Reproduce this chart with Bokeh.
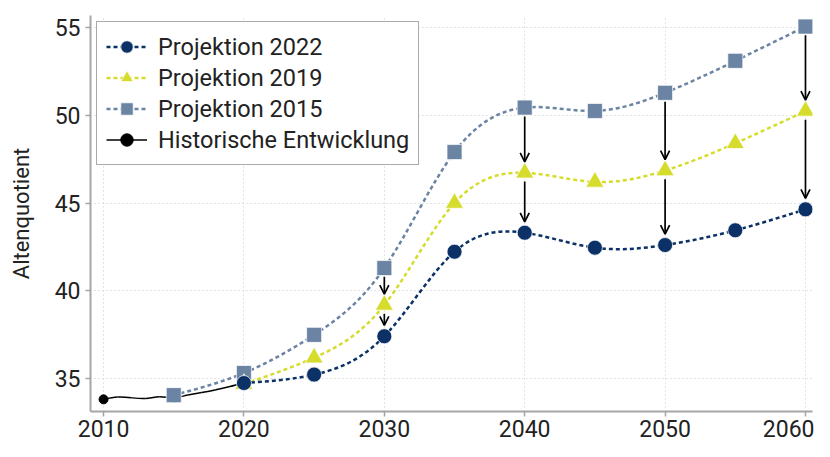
import numpy as np
from bokeh.plotting import figure
from bokeh.models import (ColumnDataSource, Range1d, FixedTicker, Legend, LegendItem,
                          Arrow, OpenHead)
from bokeh.embed import file_html
from bokeh.resources import INLINE

# ---------------- data ----------------
years_proj = [2020, 2025, 2030, 2035, 2040, 2045, 2050, 2055, 2060]
proj_2022 = [34.76, 35.24, 37.42, 42.23, 43.31, 42.46, 42.61, 43.45, 44.64]
proj_2019 = [34.7, 36.2, 39.2, 45.0, 46.72, 46.2, 46.85, 48.4, 50.24]
years_2015 = [2015, 2020, 2025, 2030, 2035, 2040, 2045, 2050, 2055, 2060]
proj_2015 = [34.07, 35.33, 37.5, 41.3, 47.9, 50.43, 50.24, 51.27, 53.09, 55.04]
years_hist = [2010, 2011, 2012, 2013, 2014, 2015, 2016, 2017, 2018, 2019, 2020]
hist = [33.83, 33.96, 33.92, 33.88, 33.98, 33.92, 34.08, 34.22, 34.38, 34.56, 34.76]
hist_marker_years = [2010, 2015, 2020]
arrow_years = [2030, 2040, 2050, 2060]

x_ticks = [2010, 2020, 2030, 2040, 2050, 2060]
y_ticks = [35, 40, 45, 50, 55]

C2022 = "#0b3166"
C2019 = "#d5dc2b"
C2015 = "#6b84a3"
FONT = "Roboto"


def spline_segments(xs, ys):
    """Natural cubic spline through the points, as cubic Bezier segments."""
    x = np.asarray(xs, float)
    y = np.asarray(ys, float)
    n = len(x)
    h = np.diff(x)
    A = np.zeros((n, n))
    b = np.zeros(n)
    A[0, 0] = 1
    A[-1, -1] = 1
    for i in range(1, n - 1):
        A[i, i - 1] = h[i - 1]
        A[i, i] = 2 * (h[i - 1] + h[i])
        A[i, i + 1] = h[i]
        b[i] = 6 * ((y[i + 1] - y[i]) / h[i] - (y[i] - y[i - 1]) / h[i - 1])
    M = np.linalg.solve(A, b)
    s = (y[1:] - y[:-1]) / h
    d0 = s - h * (2 * M[:-1] + M[1:]) / 6
    d1 = s + h * (M[:-1] + 2 * M[1:]) / 6
    return dict(x0=x[:-1], y0=y[:-1], x1=x[1:], y1=y[1:],
                cx0=x[:-1] + h / 3, cy0=y[:-1] + d0 * h / 3,
                cx1=x[1:] - h / 3, cy1=y[1:] - d1 * h / 3)


p = figure(width=814, height=441, output_backend="svg", toolbar_location=None,
           x_range=Range1d(2009.07, 2060.5), y_range=Range1d(33.14, 55.67),
           min_border_left=90, min_border_right=2, min_border_top=15, min_border_bottom=30)
p.outline_line_color = None
p.background_fill_color = "white"

# axes
for ax in (p.xaxis[0], p.yaxis[0]):
    ax.axis_line_color = "#a6a6a6"
    ax.axis_line_width = 2
    ax.major_tick_line_color = "#a6a6a6"
    ax.major_tick_line_width = 1.5
    ax.major_tick_out = 5
    ax.major_tick_in = 0
    ax.minor_tick_line_color = None
    ax.major_label_text_font = FONT
    ax.major_label_text_font_size = "23px"
    ax.major_label_text_color = "#222222"
p.xaxis.ticker = FixedTicker(ticks=x_ticks)
p.yaxis.ticker = FixedTicker(ticks=y_ticks)
p.xaxis.major_label_standoff = 3
p.yaxis.major_label_standoff = 5
p.yaxis.axis_label = "Altenquotient"
p.yaxis.axis_label_text_font = FONT
p.yaxis.axis_label_text_font_size = "22px"
p.yaxis.axis_label_text_font_style = "normal"
p.yaxis.axis_label_text_color = "#222222"
p.yaxis.axis_label_standoff = 18

p.xgrid.ticker = FixedTicker(ticks=x_ticks)
p.ygrid.ticker = FixedTicker(ticks=y_ticks)
for g in (p.xgrid[0], p.ygrid[0]):
    g.grid_line_color = "#c8c8c8"
    g.grid_line_dash = "1 3"
    g.grid_line_width = 1

# smooth dashed projection curves
curves = {}
for key, xs, ys, col in (("2015", years_2015, proj_2015, C2015),
                         ("2019", years_proj, proj_2019, C2019),
                         ("2022", years_proj, proj_2022, C2022)):
    curves[key] = p.bezier(source=ColumnDataSource(spline_segments(xs, ys)),
                           x0="x0", y0="y0", x1="x1", y1="y1",
                           cx0="cx0", cy0="cy0", cx1="cx1", cy1="cy1",
                           line_color=col, line_width=2.5, line_dash="4 3")

# historical
hist_line = p.bezier(source=ColumnDataSource(spline_segments(years_hist, hist)),
                     x0="x0", y0="y0", x1="x1", y1="y1",
                     cx0="cx0", cy0="cy0", cx1="cx1", cy1="cy1",
                     line_color="black", line_width=1.5)
hist_marker_vals = [hist[years_hist.index(yr)] for yr in hist_marker_years]
hist_pts = p.scatter(hist_marker_years, hist_marker_vals, marker="circle", size=9,
                     fill_color="black", line_color="black")

# markers
m2015 = p.scatter(years_2015, proj_2015, marker="square", size=15, fill_color=C2015,
                  line_color="white", line_alpha=0.7, line_width=1)
m2019 = p.scatter(years_proj, proj_2019, marker="triangle", size=18, fill_color=C2019,
                  line_color="white", line_alpha=0.7, line_width=1)
m2022 = p.scatter(years_proj, proj_2022, marker="circle", size=15, fill_color=C2022,
                  line_color="white", line_alpha=0.7, line_width=1)

# arrows between projections
for yr in arrow_years:
    top = proj_2015[years_2015.index(yr)]
    mid = proj_2019[years_proj.index(yr)]
    low = proj_2022[years_proj.index(yr)]
    for a, b in ((top, mid), (mid, low)):
        p.add_layout(Arrow(end=OpenHead(size=9, line_width=1.7, line_color="black"),
                           x_start=yr, y_start=a - 0.5, x_end=yr, y_end=b + 0.62,
                           line_width=1.7, line_color="black"))

legend = Legend(items=[
    LegendItem(label="Projektion 2022", renderers=[curves["2022"], m2022]),
    LegendItem(label="Projektion 2019", renderers=[curves["2019"], m2019]),
    LegendItem(label="Projektion 2015", renderers=[curves["2015"], m2015]),
    LegendItem(label="Historische Entwicklung", renderers=[hist_line, hist_pts]),
], location="top_left")
legend.label_text_font = FONT
legend.label_text_font_size = "23.5px"
legend.label_text_color = "#222222"
legend.glyph_width = 41
legend.glyph_height = 31
legend.label_height = 31
legend.spacing = 0
legend.padding = 9
legend.margin = 6
legend.label_standoff = 11
legend.border_line_color = "#555555"
legend.border_line_width = 1.3
legend.background_fill_alpha = 1
p.add_layout(legend)

open("out.html", "w").write(file_html(p, INLINE))
